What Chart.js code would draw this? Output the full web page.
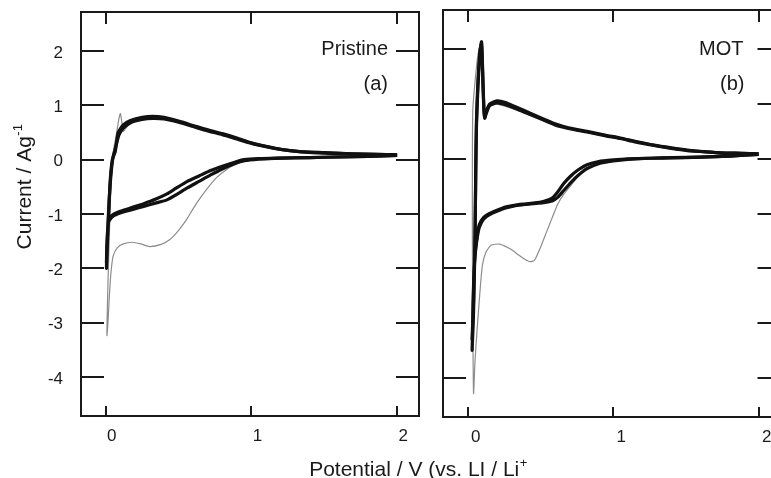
<!DOCTYPE html>
<html>
<head>
<meta charset="utf-8">
<script src="https://cdn.jsdelivr.net/npm/chart.js@4"></script>
<style>
  html, body { margin: 0; padding: 0; background: #fff; overflow: hidden; }
  #wrap { position: relative; width: 771px; height: 478px; overflow: hidden; background: #fff; }
  #left { position: absolute; left: 0; top: 0; }
  #right { position: absolute; left: 430px; top: 0; }
</style>
</head>
<body>
<div id="wrap">
  <canvas id="left" width="771" height="478"></canvas>
  <canvas id="right" width="360" height="478"></canvas>
</div>
<script>
// axis ranges (V vs Li/Li+, current in A/g)
const xMin = -0.17, xMax = 2.15;
const yMin = -4.72, yMax = 2.72;

// Pristine (a): later cycles (black band), two cycles
const pristineBandAV = [2.00, 1.80, 1.60, 1.40, 1.20, 1.05, 0.95, 0.88, 0.80, 0.72, 0.64, 0.56, 0.48, 0.42, 0.34, 0.26, 0.18, 0.10, 0.05, 0.02, 0.01, 0.005,
  0.01, 0.02, 0.03, 0.045, 0.065, 0.085, 0.12, 0.17, 0.25, 0.32, 0.40, 0.50, 0.60, 0.70, 0.80, 0.90, 1.00, 1.10, 1.20, 1.33, 1.50, 1.68, 1.85, 2.00];
const pristineBandAI = [0.08, 0.06, 0.05, 0.04, 0.03, 0.01, -0.02, -0.08, -0.17, -0.28, -0.40, -0.52, -0.65, -0.74, -0.80, -0.86, -0.92, -0.98, -1.04, -1.14, -1.5, -2.0,
  -1.6, -1.0, -0.4, 0.0, 0.15, 0.5, 0.64, 0.72, 0.78, 0.80, 0.78, 0.71, 0.63, 0.55, 0.48, 0.40, 0.31, 0.245, 0.19, 0.15, 0.13, 0.11, 0.10, 0.09];
const pristineBandBV = [2.00, 1.80, 1.60, 1.40, 1.20, 1.05, 0.95, 0.88, 0.80, 0.72, 0.64, 0.56, 0.48, 0.42, 0.34, 0.26, 0.18, 0.10, 0.05, 0.02, 0.01, 0.005,
  0.01, 0.02, 0.035, 0.05, 0.07, 0.09, 0.12, 0.17, 0.25, 0.32, 0.40, 0.50, 0.60, 0.70, 0.80, 0.90, 1.00, 1.10, 1.20, 1.33, 1.50, 1.68, 1.85, 2.00];
const pristineBandBI = [0.08, 0.06, 0.05, 0.04, 0.03, 0.02, 0.0, -0.05, -0.12, -0.20, -0.30, -0.40, -0.53, -0.63, -0.73, -0.81, -0.88, -0.95, -1.01, -1.10, -1.45, -1.9,
  -1.5, -0.9, -0.3, 0.05, 0.25, 0.45, 0.58, 0.68, 0.74, 0.76, 0.75, 0.69, 0.61, 0.53, 0.46, 0.38, 0.30, 0.24, 0.19, 0.15, 0.12, 0.11, 0.10, 0.09];
// Pristine (a): first cycle (grey)
const pristineFirstV = [2.00, 1.70, 1.40, 1.20, 1.05, 0.98, 0.90, 0.83, 0.76, 0.70, 0.65, 0.60, 0.56, 0.50, 0.44, 0.38, 0.30, 0.24, 0.18, 0.12, 0.08, 0.05, 0.035, 0.025, 0.015, 0.008,
  0.012, 0.02, 0.03, 0.04, 0.055, 0.075, 0.09, 0.10, 0.11, 0.12, 0.15, 0.20, 0.30, 0.40, 0.55, 0.70, 0.90, 1.10, 1.40, 1.70, 2.00];
const pristineFirstI = [0.09, 0.07, 0.05, 0.03, 0.01, -0.02, -0.07, -0.18, -0.33, -0.52, -0.70, -0.90, -1.08, -1.30, -1.47, -1.56, -1.60, -1.55, -1.52, -1.55, -1.62, -1.78, -2.1, -2.5, -3.0, -3.24,
  -2.6, -1.8, -0.9, -0.2, 0.2, 0.5, 0.75, 0.85, 0.7, 0.52, 0.62, 0.72, 0.78, 0.77, 0.67, 0.54, 0.39, 0.24, 0.14, 0.11, 0.09];

// MOT (b): later cycles
const motBandV = [2.00, 1.80, 1.60, 1.40, 1.25, 1.10, 1.00, 0.90, 0.82, 0.76, 0.71, 0.66, 0.62, 0.58, 0.52, 0.45, 0.38, 0.32, 0.26, 0.21, 0.15, 0.11, 0.08, 0.065, 0.05, 0.04, 0.035, 0.03,
  0.04, 0.05, 0.055, 0.06, 0.07, 0.085, 0.095, 0.103, 0.11, 0.117, 0.13, 0.15, 0.20, 0.26, 0.32, 0.40, 0.50, 0.60, 0.70, 0.82, 0.95, 1.05, 1.15, 1.28, 1.40, 1.51, 1.62, 1.74, 1.88, 2.00];
const motBandAI = [0.08, 0.05, 0.03, 0.015, 0.01, -0.01, -0.04, -0.09, -0.18, -0.30, -0.43, -0.58, -0.70, -0.77, -0.80, -0.82, -0.84, -0.86, -0.90, -0.95, -1.02, -1.10, -1.25, -1.45, -1.8, -2.4, -3.0, -3.5,
  -2.8, -1.5, -0.3, 0.6, 1.3, 1.95, 2.14, 1.6, 1.0, 0.76, 0.85, 0.97, 1.02, 0.99, 0.93, 0.84, 0.73, 0.62, 0.55, 0.49, 0.42, 0.37, 0.31, 0.245, 0.19, 0.15, 0.13, 0.11, 0.10, 0.09];
const motBandBI = [0.08, 0.05, 0.03, 0.02, 0.01, 0.0, -0.02, -0.05, -0.11, -0.20, -0.31, -0.45, -0.60, -0.72, -0.78, -0.81, -0.83, -0.85, -0.88, -0.93, -1.0, -1.07, -1.2, -1.4, -1.75, -2.3, -2.9, -3.3,
  -2.6, -1.4, -0.2, 0.7, 1.4, 2.0, 2.1, 1.5, 0.95, 0.74, 0.88, 1.0, 1.06, 1.03, 0.96, 0.87, 0.75, 0.64, 0.56, 0.50, 0.43, 0.38, 0.32, 0.25, 0.20, 0.16, 0.13, 0.11, 0.10, 0.09];
// MOT (b): first cycle
const motFirstV = [2.00, 1.70, 1.40, 1.10, 0.95, 0.85, 0.78, 0.72, 0.66, 0.62, 0.58, 0.54, 0.50, 0.46, 0.43, 0.40, 0.35, 0.30, 0.22, 0.16, 0.125, 0.10, 0.08, 0.065, 0.05, 0.04,
  0.035, 0.032, 0.032, 0.035, 0.05, 0.07, 0.09, 0.10, 0.11, 0.14, 0.20, 0.35, 0.60, 0.90, 1.20, 1.50, 1.80, 2.00];
const motFirstI = [0.08, 0.05, 0.02, -0.01, -0.05, -0.12, -0.25, -0.45, -0.65, -0.82, -1.08, -1.35, -1.62, -1.85, -1.88, -1.85, -1.76, -1.66, -1.56, -1.58, -1.71, -1.96, -2.57, -3.1, -3.7, -4.29,
  -3.0, -1.5, 0.0, 0.9, 1.4, 1.9, 2.1, 1.4, 0.85, 0.95, 1.0, 0.88, 0.62, 0.44, 0.28, 0.15, 0.10, 0.09];

const ink = '#1a1a1a';
Chart.defaults.font.family = '"Liberation Sans", Arial, Helvetica, sans-serif';
Chart.defaults.color = ink;

function pts(vs, is) {
  return vs.map((v, i) => ({ x: v, y: is[i] }));
}

function band(vs, is) {
  return { data: pts(vs, is), showLine: true, borderColor: '#111', borderWidth: 3.2, pointRadius: 0, tension: 0.2 };
}

function firstCycle(vs, is) {
  return { data: pts(vs, is), showLine: true, borderColor: '#8c8c8c', borderWidth: 1.2, pointRadius: 0, tension: 0.2 };
}

// the inward ticks need a big label padding; keep it from shrinking the plot area
function noPad(s) {
  s.paddingTop = 0; s.paddingBottom = 0; s.paddingLeft = 0; s.paddingRight = 0;
}

function panelScales(o) {
  const border = { display: true, color: ink, width: 2 };
  const tick = { drawOnChartArea: false, drawTicks: true, color: ink, lineWidth: 2 };
  return {
    x: {
      type: 'linear', position: 'bottom', min: xMin, max: xMax,
      ticks: { stepSize: 1, includeBounds: false, padding: 20, labelOffset: o.xLabelOffset, font: { size: 17 } },
      grid: Object.assign({}, tick, { tickLength: -10 }),
      border: border,
      afterFit: s => { s.height = o.xHeight; noPad(s); }
    },
    xTop: {
      type: 'linear', position: 'top', min: xMin, max: xMax,
      ticks: { stepSize: 1, includeBounds: false, display: false },
      grid: Object.assign({}, tick, { tickLength: -12 }),
      border: border,
      afterFit: s => { s.height = 0; noPad(s); }
    },
    y: {
      type: 'linear', position: 'left', min: yMin, max: yMax,
      ticks: { stepSize: 1, includeBounds: false, display: o.yLabels, padding: 41, labelOffset: 2, font: { size: 17 } },
      grid: Object.assign({}, tick, { tickLength: -23 }),
      border: border,
      afterFit: s => { s.width = o.yWidth; noPad(s); }
    },
    yRight: {
      type: 'linear', position: 'right', min: yMin, max: yMax,
      ticks: { stepSize: 1, includeBounds: false, display: false },
      grid: Object.assign({}, tick, { tickLength: -23 }),
      border: border,
      afterFit: s => { s.width = 0; noPad(s); }
    }
  };
}

// text with a raised suffix, centred on cx
function drawWithSup(ctx, main, sup, cx, y, size) {
  ctx.font = size + 'px "Liberation Sans", Arial, sans-serif';
  const w1 = ctx.measureText(main).width;
  ctx.font = Math.round(size * 0.62) + 'px "Liberation Sans", Arial, sans-serif';
  const w2 = ctx.measureText(sup).width;
  const x0 = cx - (w1 + w2) / 2;
  ctx.font = size + 'px "Liberation Sans", Arial, sans-serif';
  ctx.fillText(main, x0, y);
  ctx.font = Math.round(size * 0.62) + 'px "Liberation Sans", Arial, sans-serif';
  ctx.fillText(sup, x0 + w1 + 0.5, y - size * 0.42);
}

const panelText = {
  id: 'panelText',
  afterDraw(chart, args, opts) {
    const { ctx, chartArea } = chart;
    ctx.save();
    ctx.fillStyle = ink;
    ctx.font = '20px "Liberation Sans", Arial, sans-serif';
    ctx.textAlign = 'right';
    ctx.textBaseline = 'middle';
    ctx.fillText(opts.name, chartArea.right - opts.nameInset, chartArea.top + opts.nameDy);
    ctx.fillText(opts.tag, chartArea.right - opts.tagInset, chartArea.top + opts.tagDy);
    ctx.restore();
  }
};

const axisTitles = {
  id: 'axisTitles',
  afterDraw(chart) {
    const ctx = chart.ctx;
    ctx.save();
    ctx.fillStyle = ink;
    ctx.textAlign = 'left';
    ctx.textBaseline = 'alphabetic';
    drawWithSup(ctx, 'Potential / V (vs. LI / Li', '+', 418, 476, 21);
    ctx.restore();
    ctx.save();
    ctx.fillStyle = ink;
    ctx.textAlign = 'left';
    ctx.textBaseline = 'alphabetic';
    ctx.translate(31, 187);
    ctx.rotate(-Math.PI / 2);
    drawWithSup(ctx, 'Current / Ag', '-1', 0, 0, 21);
    ctx.restore();
  }
};

new Chart(document.getElementById('left'), {
  type: 'scatter',
  data: {
    datasets: [
      band(pristineBandAV, pristineBandAI),
      band(pristineBandBV, pristineBandBI),
      firstCycle(pristineFirstV, pristineFirstI)
    ]
  },
  options: {
    responsive: false,
    animation: false,
    devicePixelRatio: 1,
    layout: { padding: { left: 0, top: 12, right: 352, bottom: 0 } },
    scales: panelScales({ xLabelOffset: 6, xHeight: 62, yWidth: 81, yLabels: true }),
    plugins: {
      legend: { display: false },
      tooltip: { enabled: false },
      panelText: { name: 'Pristine', tag: '(a)', nameInset: 31, tagInset: 31, nameDy: 37, tagDy: 72 }
    }
  },
  plugins: [panelText, axisTitles]
});

new Chart(document.getElementById('right'), {
  type: 'scatter',
  data: {
    datasets: [
      band(motBandV, motBandAI),
      band(motBandV, motBandBI),
      firstCycle(motFirstV, motFirstI)
    ]
  },
  options: {
    responsive: false,
    animation: false,
    devicePixelRatio: 1,
    layout: { padding: { left: 0, top: 10, right: 9.5, bottom: 0 } },
    scales: panelScales({ xLabelOffset: 8, xHeight: 61, yWidth: 13, yLabels: false }),
    plugins: {
      legend: { display: false },
      tooltip: { enabled: false },
      panelText: { name: 'MOT', tag: '(b)', nameInset: 37, tagInset: 36, nameDy: 39, tagDy: 74 }
    }
  },
  plugins: [panelText]
});
</script>
</body>
</html>
